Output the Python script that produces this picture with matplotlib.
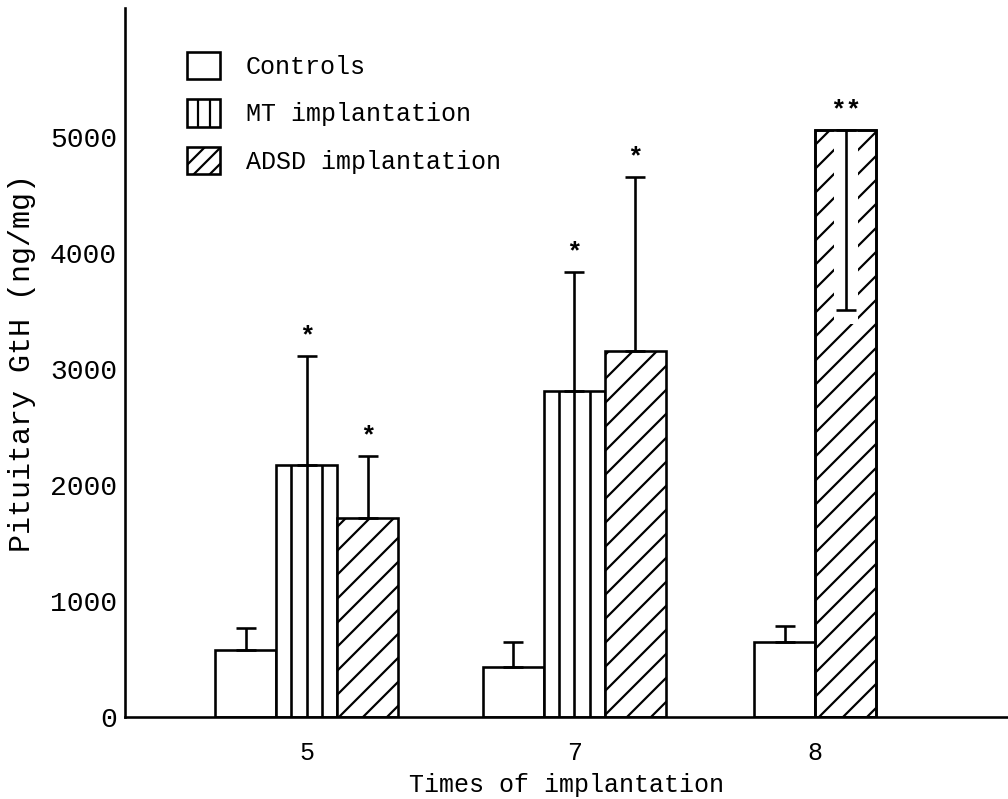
import numpy as np
import matplotlib
matplotlib.use('Agg')
import matplotlib.pyplot as plt
from matplotlib.patches import Patch

# ---- data ----
times = ['5', '7', '8']
group_pos = [2.98, 7.37, 11.32]
series_names = ['Controls', 'MT implantation', 'ADSD implantation']
controls = [575, 430, 645]
controls_err = [190, 215, 140]
mt = [2170, 2810, np.nan]
mt_err = [940, 1025, np.nan]
adsd = [1715, 3155, 5060]
adsd_err = [535, 1500, 1550]
adsd_err_dir = ['up', 'up', 'down']
controls_sig = ['', '', '']
mt_sig = ['*', '*', '']
adsd_sig = ['*', '*', '**']
yticks = [0, 1000, 2000, 3000, 4000, 5000]

plt.rcParams['font.family'] = ['Liberation Mono', 'DejaVu Sans']
plt.rcParams['hatch.linewidth'] = 1.1
plt.rcParams['hatch.color'] = 'black'

DPI = 144
fig = plt.figure(figsize=(1008 / DPI, 799 / DPI), dpi=DPI)
ax = fig.add_axes([0.124, 0.1026, 0.876, 0.887])

W = 1.0
LW = 1.3
values = [controls, mt, adsd]
errors = [controls_err, mt_err, adsd_err]
sigs = [controls_sig, mt_sig, adsd_sig]
dirs = [['up'] * 3, ['up'] * 3, adsd_err_dir]

for g in range(len(times)):
    present = [s for s in range(3) if not np.isnan(values[s][g])]
    n = len(present)
    offsets = np.arange(n) - (n - 1) / 2
    for k, s in enumerate(present):
        x = group_pos[g] + offsets[k] * W
        v = values[s][g]
        e = errors[s][g]
        hatch = '//' if s == 2 else None
        ax.bar(x, v, width=W, facecolor='white', edgecolor='black',
               linewidth=LW, hatch=hatch, zorder=2)
        if s == 1:
            ax.vlines([x - W / 4, x, x + W / 4], 0, v, colors='black',
                      linewidth=LW, zorder=2.2)
        if dirs[s][g] == 'up':
            ax.errorbar(x, v, yerr=[[0], [e]], fmt='none', ecolor='black',
                        elinewidth=LW, capsize=5, capthick=LW, zorder=3)
            top = v + e
        else:
            ax.bar(x, e * 1.08, bottom=v - e * 1.08, width=W * 0.4,
                   color='white', edgecolor='none', zorder=2.5)
            ax.bar(x, v, width=W, fill=False, edgecolor='black',
                   linewidth=LW, zorder=2.6)
            ax.errorbar(x, v, yerr=[[e], [0]], fmt='none', ecolor='black',
                        elinewidth=LW, capsize=5, capthick=LW, zorder=3)
            top = v
        if sigs[s][g]:
            ax.text(x, top + 110, sigs[s][g], ha='center', va='baseline',
                    fontsize=13, fontweight='bold')

ax.set_xlim(0, 14.48)
ax.set_ylim(0, 6110)
ax.set_yticks(yticks)
ax.set_yticklabels([str(t) for t in yticks], fontsize=14)
ax.set_xticks(group_pos)
ax.set_xticklabels(times, fontsize=12.5)
ax.tick_params(axis='y', length=0, pad=4)
ax.tick_params(axis='x', length=0, pad=12)

for side in ['top', 'right']:
    ax.spines[side].set_visible(False)
for side in ['left', 'bottom']:
    ax.spines[side].set_linewidth(LW)

ax.set_xlabel('Times of implantation', fontsize=12.5, labelpad=4)
ax.set_ylabel('Pituitary GtH (ng/mg)', fontsize=15, labelpad=7)

handles = [Patch(facecolor='white', edgecolor='black', linewidth=LW),
           Patch(facecolor='white', edgecolor='black', linewidth=LW, hatch='||'),
           Patch(facecolor='white', edgecolor='black', linewidth=LW, hatch='///')]
ax.legend(handles, series_names, loc='upper left',
          bbox_to_anchor=(0.0705, 0.938), frameon=False, fontsize=12.5,
          handlelength=1.3, handleheight=1.3, labelspacing=0.8,
          handletextpad=1.05, borderpad=0, borderaxespad=0)

fig.savefig('out.png', dpi=DPI)
